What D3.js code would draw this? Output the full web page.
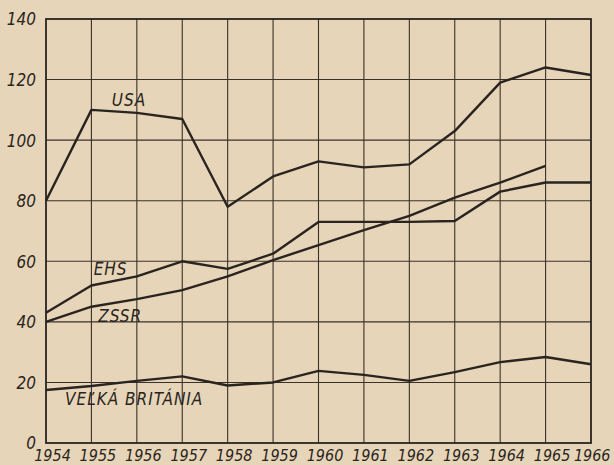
<!DOCTYPE html>
<html>
<head>
<meta charset="utf-8">
<script src="https://cdn.jsdelivr.net/npm/d3@7"></script>
<style>
    html, body { margin: 0; padding: 0; background: #e6d5b8; }
    svg { display: block; }
    text { font-family: "DejaVu Sans Condensed", "Liberation Sans Narrow", sans-serif; font-style: italic; fill: #2a2420; }
</style>
</head>
<body>
<svg width="614" height="465"></svg>
<script>
var years = [1954, 1955, 1956, 1957, 1958, 1959, 1960, 1961, 1962, 1963, 1964, 1965, 1966];
var yTicks = [0, 20, 40, 60, 80, 100, 120, 140];

var usa = [80, 110, 109, 107, 78, 88, 93, 91, 92, 103, 119, 124, 121.5];
var ehs = [43, 52, 55, 60, 57.5, 62.5, 73, 73, 73, 73.3, 83, 86, 86];
var zssr = [40, 45, 47.5, 50.5, 55, 60.4, 65.3, 70.3, 75, 81, 86, 91.5];
var britain = [17.5, 18.8, 20.5, 22, 19, 20, 23.8, 22.5, 20.5, 23.4, 26.7, 28.4, 26];

var seriesNames = ['USA', 'EHS', 'ZSSR', 'VEĽKÁ BRITÁNIA'];

var svg = d3.select('svg'),
    ink = '#2a2420',
    margin = { left: 46, right: 23, top: 19, bottom: 22 },
    width = 614 - margin.left - margin.right,
    height = 465 - margin.top - margin.bottom;

var x = d3.scaleLinear().domain([1954, 1966]).range([0, width]),
    y = d3.scaleLinear().domain([0, 140]).range([height, 0]);

var g = svg.append('g')
    .attr('transform', 'translate(' + margin.left + ',' + margin.top + ')');

// grid
g.append('g')
    .selectAll('line')
    .data(years.slice(1, -1))
    .enter().append('line')
    .attr('x1', function (d) { return x(d); })
    .attr('x2', function (d) { return x(d); })
    .attr('y1', 0)
    .attr('y2', height)
    .attr('stroke', '#3a3128')
    .attr('stroke-width', 1.1);

g.append('g')
    .selectAll('line')
    .data(yTicks.slice(1, -1))
    .enter().append('line')
    .attr('x1', 0)
    .attr('x2', width)
    .attr('y1', function (d) { return y(d); })
    .attr('y2', function (d) { return y(d); })
    .attr('stroke', '#3a3128')
    .attr('stroke-width', 1.1);

// frame
g.append('rect')
    .attr('width', width)
    .attr('height', height)
    .attr('fill', 'none')
    .attr('stroke', ink)
    .attr('stroke-width', 1.8);

// axes (labels only)
var yAxis = g.append('g')
    .call(d3.axisLeft(y).tickValues(yTicks).tickSize(0).tickPadding(10));
yAxis.select('.domain').remove();
yAxis.selectAll('text')
    .style('font-size', '17px')
    .attr('dy', '0.35em');

var xAxis = g.append('g')
    .attr('transform', 'translate(6,' + height + ')')
    .call(d3.axisBottom(x).tickValues(years).tickFormat(d3.format('d')).tickSize(0).tickPadding(8));
xAxis.select('.domain').remove();
xAxis.selectAll('text')
    .style('font-size', '16px')
    .attr('dy', '0.6em');
// last label would run off the page edge
xAxis.selectAll('.tick')
    .filter(function (d) { return d === 1966; })
    .select('text')
    .attr('text-anchor', 'end')
    .attr('x', 13);

// lines
var line = d3.line()
    .x(function (d, i) { return x(years[i]); })
    .y(function (d) { return y(d); });

[usa, ehs, zssr, britain].forEach(function (s) {
    g.append('path')
        .datum(s)
        .attr('d', line)
        .attr('fill', 'none')
        .attr('stroke', ink)
        .attr('stroke-width', 2.4)
        .attr('stroke-linejoin', 'round');
});

// series labels
var labelPos = [
    { x: 1955.45, v: 111.2 },
    { x: 1955.05, v: 55.5 },
    { x: 1955.15, v: 39.8 },
    { x: 1954.42, v: 12.6 }
];

g.selectAll('.series-label')
    .data(seriesNames)
    .enter().append('text')
    .attr('class', 'series-label')
    .attr('x', function (d, i) { return x(labelPos[i].x); })
    .attr('y', function (d, i) { return y(labelPos[i].v); })
    .style('font-size', '17px')
    .style('letter-spacing', '1px')
    .text(function (d) { return d; });
</script>
</body>
</html>
